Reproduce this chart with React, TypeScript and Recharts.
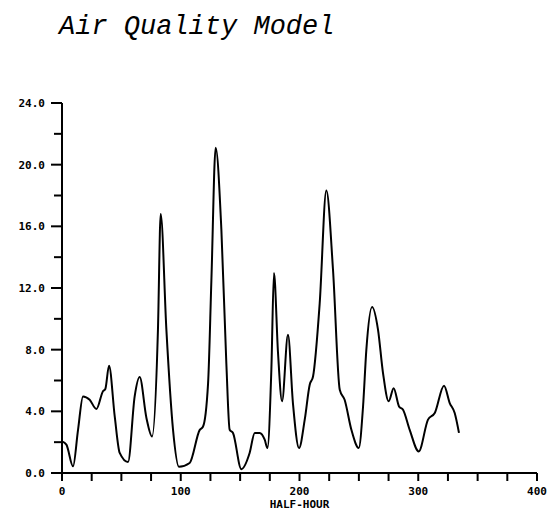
import { LineChart, Line, XAxis, YAxis } from "recharts"

// half-hour index and modelled concentration
const halfHour = [
  0, 3.7, 9.3, 13.5, 17.7, 23.3, 29, 34.5, 36.5, 39.6, 44.4, 48.6, 55.6, 61.2, 65.4, 71.1, 75.8, 80.8,
  83.1, 87.9, 93.5, 98.5, 107.5, 116, 118.7, 123, 125.8, 129.4, 134.2, 138.4, 141.2, 144, 151, 158,
  162.3, 166.5, 170.7, 173, 176.3, 178.5, 181.9, 185.3, 190.3, 194.5, 199.6, 204.4, 208.6, 211.4, 217,
  222.6, 228.2, 233.9, 238, 243.7, 249.9, 253.5, 256.3, 261.1, 266.1, 270.3, 275.1, 279.3, 283.8, 287.2,
  292.8, 300.4, 308.2, 313.9, 321.7, 326.5, 330.7, 334.3,
]
const concentration = [
  2.05, 1.84, 0.43, 2.8, 4.97, 4.75, 4.15, 5.3, 5.45, 6.96, 3.67, 1.3, 0.71, 4.97, 6.22, 3.57, 2.37, 9.3,
  16.8, 9.3, 2.8, 0.4, 0.65, 2.8, 3.0, 5.8, 12.5, 21.1, 15.8, 7.1, 2.8, 2.6, 0.25, 1.3,
  2.6, 2.6, 2.16, 1.62, 6.7, 12.97, 7.8, 4.65, 8.97, 4.5, 1.62, 3.46, 5.73, 6.26, 11.0,
  18.33, 13.2, 5.4, 4.75, 2.8, 1.62, 4.3, 8.0, 10.77, 9.3, 6.5, 4.65, 5.5, 4.32, 4.1,
  2.8, 1.4, 3.46, 3.89, 5.66, 4.54, 3.89, 2.6,
]
const xTicks = [0, 25, 50, 75, 100, 125, 150, 175, 200, 225, 250, 275, 300, 325, 350, 375, 400]
const yTicks = [0, 2, 4, 6, 8, 10, 12, 14, 16, 18, 20, 22, 24]

const data = halfHour.map((h, i) => ({ h, c: concentration[i] }))

const plotFont = "'DejaVu Sans Mono', monospace"

function YTick(props: any) {
  const { x, y, payload } = props
  const major = payload.value % 4 === 0
  return (
    <g>
      <line x1={x - (major ? 11 : 8)} x2={x} y1={y} y2={y} stroke="#000" strokeWidth={2} />
      {major && (
        <text x={x - 17} y={y + 4} textAnchor="end" fontFamily={plotFont} fontWeight="bold" fontSize={11} fill="#000">
          {payload.value.toFixed(1)}
        </text>
      )}
    </g>
  )
}

function XTick(props: any) {
  const { x, y, payload } = props
  const major = payload.value % 100 === 0
  return (
    <g>
      <line x1={x} x2={x} y1={y} y2={y + 8} stroke="#000" strokeWidth={2} />
      {major && (
        <text x={x} y={y + 22} textAnchor="middle" fontFamily={plotFont} fontWeight="bold" fontSize={11} fill="#000">
          {payload.value}
        </text>
      )}
    </g>
  )
}

export default function App() {
  return (
    <div style={{ position: "absolute", left: 0, top: 0, width: 548, height: 512, background: "#fff" }}>
      <div
        style={{
          position: "absolute",
          left: 59,
          top: 12,
          fontFamily: "'Liberation Mono', monospace",
          fontStyle: "italic",
          fontSize: 27,
          color: "#000",
        }}
      >
        Air Quality Model
      </div>
      <LineChart width={548} height={512} data={data} margin={{ top: 103, right: 11, left: 0, bottom: 0 }}>
        <XAxis
          dataKey="h"
          type="number"
          domain={[0, 400]}
          ticks={xTicks}
          interval={0}
          tickSize={0}
          tickMargin={0}
          tickLine={false}
          height={39}
          tick={<XTick />}
          axisLine={{ stroke: "#000", strokeWidth: 2 }}
          label={{
            value: "HALF-HOUR",
            position: "insideBottom",
            offset: 4,
            style: { fontFamily: plotFont, fontWeight: "bold", fontSize: 11, fill: "#000" },
          }}
        />
        <YAxis
          type="number"
          domain={[0, 24]}
          ticks={yTicks}
          interval={0}
          width={62}
          tickSize={0}
          tickMargin={0}
          tickLine={false}
          tick={<YTick />}
          axisLine={{ stroke: "#000", strokeWidth: 2 }}
        />
        <Line
          type="monotone"
          dataKey="c"
          stroke="#000"
          strokeWidth={2}
          dot={false}
          isAnimationActive={false}
        />
      </LineChart>
    </div>
  )
}
